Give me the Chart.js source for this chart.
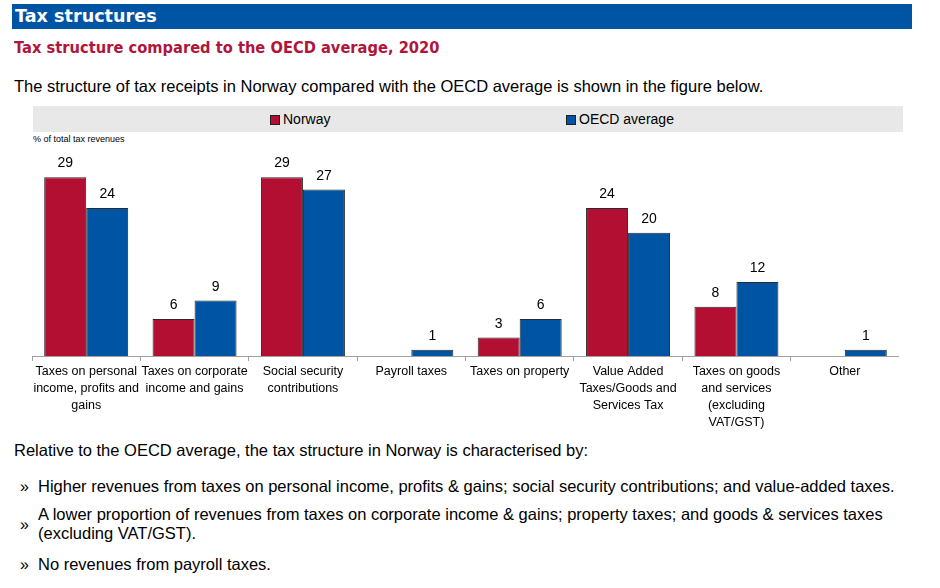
<!DOCTYPE html>
<html lang="en">
  <head>
    <meta charset="UTF-8">
    <script src="https://cdn.jsdelivr.net/npm/chart.js@4.4.0/dist/chart.umd.min.js"></script>
    <style>
      body { margin: 0; background: #FFFFFF; font-family: 'Liberation Sans', Arial, sans-serif; color: #000; }
      .page { position: relative; width: 940px; height: 588px; overflow: hidden; }
      .header {
        position: absolute; left: 12px; top: 4px; width: 900px; height: 25px;
        background: #0054A4; color: #FFFFFF;
        font-family: 'DejaVu Sans', Verdana, sans-serif; font-weight: bold; font-size: 17.6px;
        line-height: 25px; padding-left: 3px; box-sizing: border-box;
      }
      .subtitle {
        position: absolute; left: 14px; top: 38px;
        font-family: 'DejaVu Sans', Verdana, sans-serif; font-weight: bold; font-size: 16.4px;
        color: #B0163C; white-space: nowrap;
        transform: scaleX(0.895); transform-origin: left top;
      }
      .intro { position: absolute; left: 14px; top: 77px; font-size: 16.5px; white-space: nowrap; }
      .legend {
        position: absolute; left: 33px; top: 106px; width: 870px; height: 26px;
        background: #E8E8E8; font-size: 14px;
      }
      .legend-item { position: absolute; top: 0; line-height: 26px; white-space: nowrap; }
      .legend-item i {
        display: inline-block; width: 8px; height: 8px; border: 1px solid #222;
        margin-right: 3px; vertical-align: -1px;
      }
      .unit { position: absolute; left: 33px; top: 134px; font-size: 9px; }
      .chart-box { position: absolute; left: 32px; top: 135px; width: 867px; height: 300px; }
      .text { position: absolute; left: 14px; font-size: 16.5px; white-space: nowrap; }
      .bullet { position: absolute; left: 20px; font-size: 16px; }
    </style>
  </head>
  <body>
    <div class="page">
      <div class="header">Tax structures</div>
      <div class="subtitle">Tax structure compared to the OECD average, 2020</div>
      <div class="intro">The structure of tax receipts in Norway compared with the OECD average is shown in the figure below.</div>

      <div class="legend">
        <span class="legend-item" style="left:237px;"><i style="background:#B20F33;"></i>Norway</span>
        <span class="legend-item" style="left:533px;"><i style="background:#0054A4;"></i>OECD average</span>
      </div>
      <div class="unit">% of total tax revenues</div>

      <div class="chart-box">
        <canvas id="taxChart"></canvas>
      </div>

      <div class="text" style="top:441px;">Relative to the OECD average, the tax structure in Norway is characterised by:</div>
      <div class="bullet" style="top:478px;">»</div>
      <div class="text" style="left:38px; top:477px;">Higher revenues from taxes on personal income, profits &amp; gains; social security contributions; and value-added taxes.</div>
      <div class="bullet" style="top:516px;">»</div>
      <div class="text" style="left:38px; top:505px; line-height:19px;">A lower proportion of revenues from taxes on corporate income &amp; gains; property taxes; and goods &amp; services taxes<br>(excluding VAT/GST).</div>
      <div class="bullet" style="top:556px;">»</div>
      <div class="text" style="left:38px; top:555px;">No revenues from payroll taxes.</div>
    </div>

    <script>
      // categories (pre-wrapped the way they appear under the axis)
      const categories = [
        ['Taxes on personal', 'income, profits and', 'gains'],
        ['Taxes on corporate', 'income and gains'],
        ['Social security', 'contributions'],
        ['Payroll taxes'],
        ['Taxes on property'],
        ['Value Added', 'Taxes/Goods and', 'Services Tax'],
        ['Taxes on goods', 'and services', '(excluding', 'VAT/GST)'],
        ['Other']
      ];
      // % of total tax revenues; null = nothing shown
      const norway = [29, 6, 29, null, 3, 24, 8, null];
      const oecdAverage = [24, 9, 27, 1, 6, 20, 12, 1];

      // value labels above the bars
      const valueLabels = {
        id: 'valueLabels',
        afterDatasetsDraw(chart) {
          const ctx = chart.ctx;
          ctx.save();
          ctx.font = '14px "Liberation Sans", Arial, sans-serif';
          ctx.fillStyle = '#000';
          ctx.textAlign = 'center';
          ctx.textBaseline = 'alphabetic';
          chart.data.datasets.forEach((ds, i) => {
            chart.getDatasetMeta(i).data.forEach((bar, j) => {
              const v = ds.data[j];
              if (v == null) return;
              ctx.fillText(String(v), bar.x, bar.y - 10);
            });
          });
          ctx.restore();
        }
      };

      const ctx = document.getElementById('taxChart').getContext('2d');
      const taxChart = new Chart(ctx, {
        type: 'bar',
        data: {
          labels: categories,
          datasets: [
            {
              label: 'Norway',
              data: norway,
              backgroundColor: '#B20F33',
              borderColor: '#2A2A2A',
              borderWidth: 1,
              borderSkipped: 'bottom'
            },
            {
              label: 'OECD average',
              data: oecdAverage,
              backgroundColor: '#0054A4',
              borderColor: '#2A2A2A',
              borderWidth: 1,
              borderSkipped: 'bottom'
            }
          ]
        },
        options: {
          responsive: true,
          maintainAspectRatio: false,
          animation: false,
          datasets: {
            bar: { barPercentage: 1, categoryPercentage: 0.775 }
          },
          layout: { padding: { top: 36, left: 0, right: 0, bottom: 0 } },
          plugins: {
            legend: { display: false },
            tooltip: { enabled: false }
          },
          scales: {
            x: {
              afterFit: s => { s.height = 79; s.paddingLeft = 0; s.paddingRight = 0; },
              border: { display: true, color: '#A0A0A0', width: 1 },
              grid: {
                display: true,
                offset: true,
                drawOnChartArea: false,
                drawTicks: true,
                tickLength: 5,
                color: '#A0A0A0'
              },
              ticks: {
                color: '#000',
                padding: 2,
                maxRotation: 0,
                autoSkip: false,
                font: { family: '"Liberation Sans", Arial, sans-serif', size: 12.5, lineHeight: 1.36 }
              }
            },
            y: {
              display: false,
              min: 0,
              max: 30
            }
          }
        },
        plugins: [valueLabels]
      });
    </script>
  </body>
</html>
